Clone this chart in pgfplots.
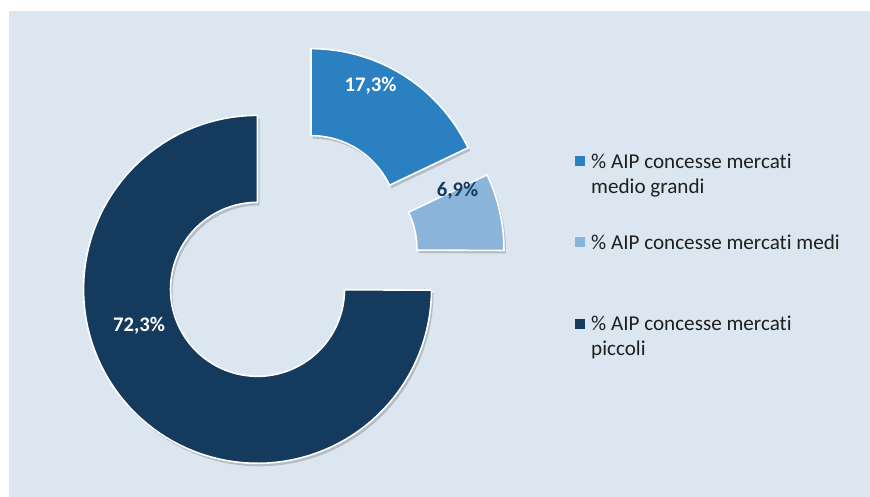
\documentclass[border=0pt]{standalone}
\usepackage{pgfplots}
\pgfplotsset{compat=1.18}
\usepackage{pgfplotstable}
\usepackage{fontspec}
\setmainfont{Carlito}[Ligatures=NoCommon]

\definecolor{bg}{HTML}{DCE6F1}
\definecolor{cA}{HTML}{2A80C0}
\definecolor{cB}{HTML}{8AB4DA}
\definecolor{cC}{HTML}{143A5E}

% slice values (percent), clockwise from 12 o'clock
\pgfplotstableread[col sep=comma]{
label,value
medio grandi,17.3
medi,6.9
piccoli,72.3
}\slices

\pgfplotstablegetelem{0}{value}\of\slices \let\vA\pgfplotsretval
\pgfplotstablegetelem{1}{value}\of\slices \let\vB\pgfplotsretval
\pgfplotstablegetelem{2}{value}\of\slices \let\vC\pgfplotsretval

% geometry in picture pixels
\def\Ox{288}\def\Oy{259}\def\expl{43}
\def\Rout{174}\def\Rin{87}

\pgfmathsetmacro\total{\vA+\vB+\vC}
\pgfmathsetmacro\sA{90}
\pgfmathsetmacro\eA{\sA-(\vA/\total)*360}
\pgfmathsetmacro\eB{\eA-(\vB/\total)*360}
\pgfmathsetmacro\eC{\eB-(\vC/\total)*360}
\pgfmathsetmacro\cxA{\Ox+\expl*cos((\sA+\eA)/2)}
\pgfmathsetmacro\cyA{\Oy-\expl*sin((\sA+\eA)/2)}
\pgfmathsetmacro\cxB{\Ox+\expl*cos((\eA+\eB)/2)}
\pgfmathsetmacro\cyB{\Oy-\expl*sin((\eA+\eB)/2)}
\pgfmathsetmacro\cxC{\Ox+\expl*cos((\eB+\eC)/2)}
\pgfmathsetmacro\cyC{\Oy-\expl*sin((\eB+\eC)/2)}

% #1 cx, #2 cy, #3 start angle, #4 end angle, #5 style
% t in [0,1]: outer arc, t in [1.01,2]: inner arc back
\newcommand\ring[5]{%
  \addplot[#5, domain=0:2, samples=201, variable=\t]
  ({(#1)+ifthenelse(\t<1.005,\Rout,\Rin)*cos(ifthenelse(\t<1.005,(#3)+((#4)-(#3))*min(\t,1),(#4)-((#4)-(#3))*(\t-1.01)/0.99))},
   {(#2)-ifthenelse(\t<1.005,\Rout,\Rin)*sin(ifthenelse(\t<1.005,(#3)+((#4)-(#3))*min(\t,1),(#4)-((#4)-(#3))*(\t-1.01)/0.99))})
  -- cycle;
}

\newcommand\lbl{\fontsize{20.8}{24}\selectfont\bfseries}
\newcommand\leg{\fontsize{21.2}{26}\selectfont}

\begin{document}
\begin{tikzpicture}
\begin{axis}[
  x=1bp, y=1bp, y dir=reverse,
  xmin=0, xmax=870, ymin=0, ymax=497,
  hide axis, clip=false,
]
\fill[white] (axis cs:0,0) rectangle (axis cs:870,497);
\fill[bg] (axis cs:9,11) rectangle (axis cs:870,497);

% soft shadows
\pgfplotsset{shadow/.style={fill=black, fill opacity=0.18, draw=none}}
\ring{\cxA+2}{\cyA+3}{\sA}{\eA}{shadow}
\ring{\cxB+2}{\cyB+3}{\eA}{\eB}{shadow}
\ring{\cxC+2}{\cyC+3}{\eB}{\eC}{shadow}

% slices
\ring{\cxA}{\cyA}{\sA}{\eA}{fill=cA, draw=white, line width=1.6bp}
\ring{\cxB}{\cyB}{\eA}{\eB}{fill=cB, draw=white, line width=1.6bp}
\ring{\cxC}{\cyC}{\eB}{\eC}{fill=cC, draw=white, line width=1.6bp}

% data labels
\node[font=\lbl, text=white, anchor=base, inner sep=0] at (axis cs:370.5,91.5) {17,3\%};
\node[font=\lbl, text=cC, anchor=base, inner sep=0] at (axis cs:457.5,197) {6,9\%};
\node[font=\lbl, text=white, anchor=base, inner sep=0] at (axis cs:139,331.5) {72,3\%};

% legend
\fill[cA] (axis cs:575,156) rectangle (axis cs:585,166);
\fill[cB] (axis cs:575,237) rectangle (axis cs:585,247);
\fill[cC] (axis cs:575,318.5) rectangle (axis cs:585,328.5);
\begin{scope}[every node/.style={font=\leg, text=black!88, anchor=base west, inner sep=0}]
\node at (axis cs:591,168.3) {\% AIP concesse mercati};
\node at (axis cs:591,193.5) {medio grandi};
\node at (axis cs:591,249.3) {\% AIP concesse mercati medi};
\node at (axis cs:591,330.5) {\% AIP concesse mercati};
\node at (axis cs:591,355.5) {piccoli};
\end{scope}
\end{axis}
\end{tikzpicture}
\end{document}
